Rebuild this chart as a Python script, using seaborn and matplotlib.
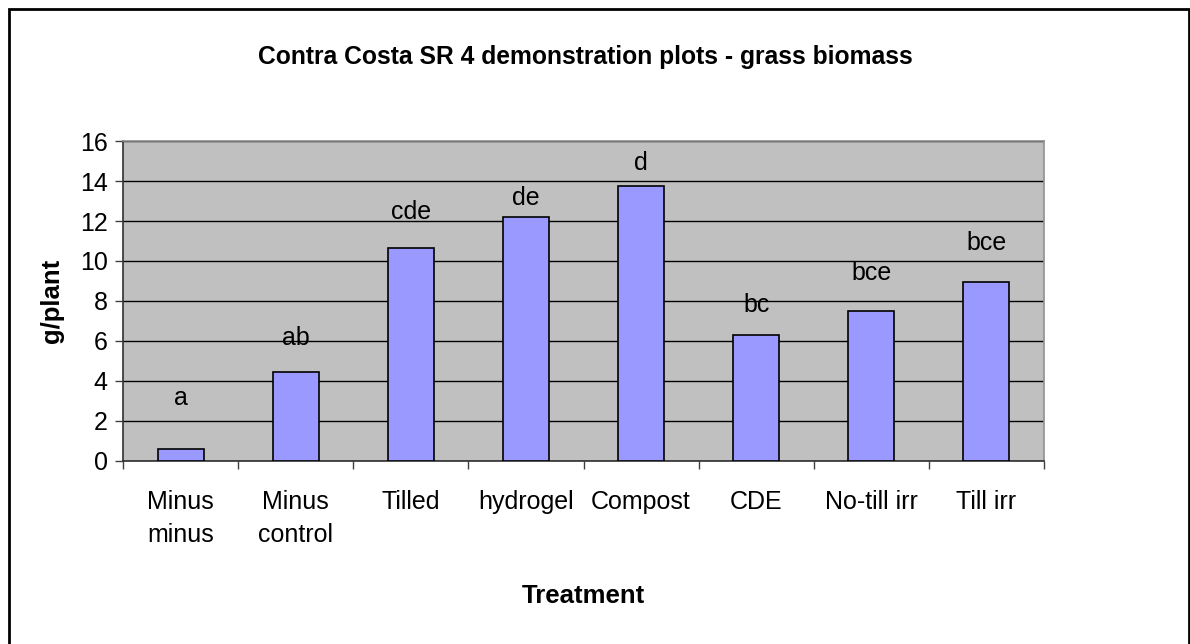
import numpy as np
import seaborn as sns
import matplotlib.pyplot as plt
from matplotlib.patches import Rectangle

# chart data
treatments = ['Minus\nminus', 'Minus\ncontrol', 'Tilled', 'hydrogel', 'Compost',
              'CDE', 'No-till irr', 'Till irr']
biomass = [0.58, 4.47, 10.67, 12.19, 13.73, 6.30, 7.52, 8.96]
sig_letters = ['a', 'ab', 'cde', 'de', 'd', 'bc', 'bce', 'bce']
sig_heights = [3.16, 6.15, 12.47, 13.13, 14.88, 7.81, 9.39, 10.89]
y_ticks = list(range(0, 17, 2))

sns.set_style('white')
plt.rcParams['font.family'] = ['Liberation Sans', 'DejaVu Sans']
plt.rcParams['text.color'] = 'black'
plt.rcParams['xtick.color'] = 'black'
plt.rcParams['ytick.color'] = 'black'

fig = plt.figure(figsize=(11.9, 6.44), dpi=100)
ax = fig.add_axes([123 / 1190, 1 - 461 / 644, 921 / 1190, 320 / 644])
ax.set_facecolor('#C0C0C0')

sns.barplot(x=list(range(len(biomass))), y=biomass, color='#9999FF', saturation=1,
            edgecolor='black', linewidth=1.2, width=0.4, ax=ax, zorder=3)

# significance letters above the bars
for i, (lab, h) in enumerate(zip(sig_letters, sig_heights)):
    ax.text(i, h, lab, ha='center', va='center', fontsize=18, zorder=4)

ax.set_ylim(0, 16)
ax.set_xlim(-0.5, len(biomass) - 0.5)
ax.set_yticks(y_ticks)
ax.yaxis.grid(True, color='black', linewidth=1)
ax.set_axisbelow(True)

# tick marks between categories, labels under the bars
ax.set_xticks(np.arange(-0.5, len(biomass), 1))
ax.set_xticklabels([])
ax.set_xticks(range(len(biomass)), labels=treatments, minor=True)
ax.tick_params(axis='x', which='major', length=6, width=1, color='#404040', direction='out', bottom=True)
ax.tick_params(axis='x', which='minor', length=0, pad=21, labelsize=18)
for lbl in ax.get_xticklabels(minor=True):
    lbl.set_linespacing(1.45)
ax.tick_params(axis='y', length=6, width=1, color='#404040', direction='out', left=True,
               labelsize=18, pad=5)

for side in ['left', 'bottom']:
    ax.spines[side].set_color('#303030')
    ax.spines[side].set_linewidth(1.2)
for side in ['top', 'right']:
    ax.spines[side].set_color('#909090')
    ax.spines[side].set_linewidth(1.2)

ax.set_xlabel('')
ax.set_ylabel('')
fig.text(583 / 1190, 1 - 596 / 644, 'Treatment', ha='center', va='center',
         fontsize=18.5, fontweight='bold')
fig.text(52 / 1190, 1 - 301 / 644, 'g/plant', ha='center', va='center',
         rotation=90, fontsize=18.5, fontweight='bold')
fig.text(585 / 1190, 1 - 57 / 644, 'Contra Costa SR 4 demonstration plots - grass biomass',
         ha='center', va='center', fontsize=17.7, fontweight='bold')

# outer chart border
fig.patches.append(Rectangle((9 / 1190, -0.02), 1180 / 1190, 1 - 9 / 644 + 0.02,
                             transform=fig.transFigure, fill=False,
                             edgecolor='black', linewidth=2))

fig.savefig('out.png', dpi=100)
